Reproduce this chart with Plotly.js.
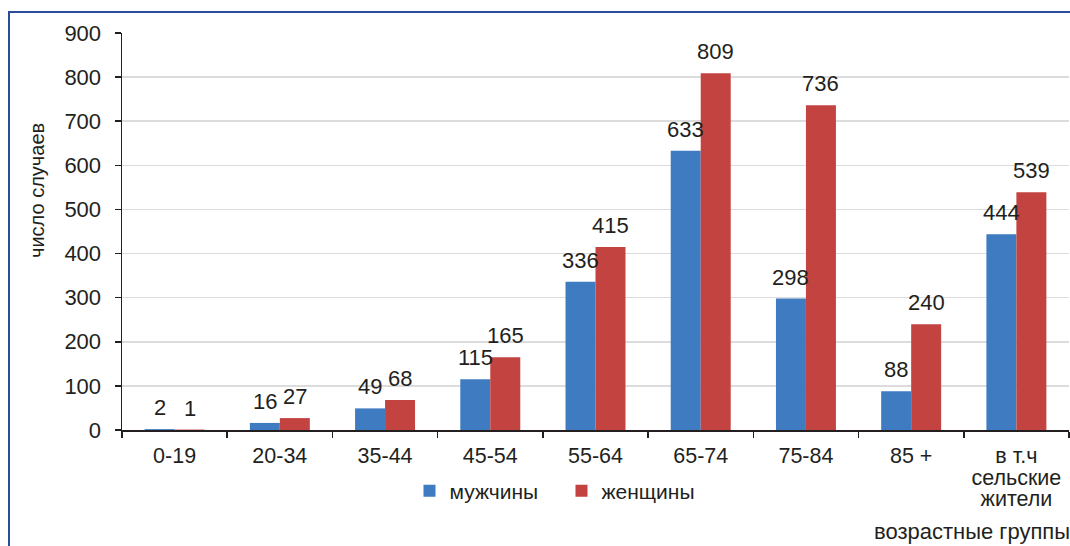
<!DOCTYPE html>
<html><head><meta charset="utf-8">
<script src="https://cdn.plot.ly/plotly-3.0.1.min.js"></script>
<style>html,body{margin:0;padding:0;background:#fff;overflow:hidden}#frame{position:absolute;left:8px;top:11px;width:1200px;height:700px;border-left:2px solid #2b4c9b;border-top:2px solid #2b4c9b;pointer-events:none}</style>
</head><body>
<div id="chart" style="width:1070px;height:546px;"></div>
<div id="frame"></div>
<script>
const categories = ["0-19","20-34","35-44","45-54","55-64","65-74","75-84","85 +","в т.ч<br>сельские<br>жители"];
const men = [2,16,49,115,336,633,298,88,444];
const women = [1,27,68,165,415,809,736,240,539];
const seriesNames = ["мужчины","женщины"];
const yTicks = [0,100,200,300,400,500,600,700,800,900];

const F = "Liberation Sans, Arial, sans-serif";
const txt = "#231f20";
const L=122, R=1069, T=33, B=430;
const W=R-L, H=B-T;
const BAR_OFF = 15; // half bar width in px

const traces = [
  {type:"bar", name:seriesNames[0], x:categories, y:men, marker:{color:"#3f7bc1"}, hoverinfo:"skip"},
  {type:"bar", name:seriesNames[1], x:categories, y:women, marker:{color:"#c34340"}, hoverinfo:"skip"}
];

const anns = [];
[[men,-BAR_OFF],[women,BAR_OFF]].forEach(([vals,dx])=>{
  vals.forEach((v,i)=>{
    anns.push({x:categories[i], y:v, xref:"x", yref:"y", text:String(v), showarrow:false,
      xanchor:"center", yanchor:"bottom", xshift:dx, yshift:7,
      font:{family:F,size:22,color:txt}});
  });
});
anns.push({text:"число случаев", xref:"paper", yref:"paper", x:(37-L)/W, y:(B-191)/H, xanchor:"center", yanchor:"middle", textangle:-90, showarrow:false, font:{family:F,size:20,color:txt}});
anns.push({text:"возрастные группы", xref:"paper", yref:"paper", x:(872-L)/W, y:(B-531)/H, xanchor:"left", yanchor:"middle", showarrow:false, font:{family:F,size:22,color:txt}});

const layout = {
  width:1070, height:546,
  margin:{l:L, r:1070-R, t:T, b:546-B, pad:0},
  paper_bgcolor:"#fff", plot_bgcolor:"#fff",
  font:{family:F, size:22, color:txt},
  barmode:"group", bargap:0.43, bargroupgap:0,
  showlegend:true,
  legend:{orientation:"h", x:(561.5-L)/W, xanchor:"center", y:(B-491)/H, yanchor:"middle",
    font:{family:F,size:21,color:txt}, itemwidth:30, entrywidth:107, entrywidthmode:"pixels"},
  xaxis:{type:"category", tickson:"boundaries", ticks:"outside", ticklen:6, tickcolor:"#231f20", tickwidth:1.5,
    tickvals:categories, ticktext:categories.map(c=>'<span style="font-size:21.5px">'+c+'</span>'),
    ticklabelstandoff:12,
    showline:true, linecolor:"#231f20", linewidth:1.5, showgrid:false, tickfont:{family:F,size:16.5,color:txt}, automargin:false, fixedrange:true},
  yaxis:{range:[0,900], tickvals:yTicks, ticks:"outside", ticklen:6, tickcolor:"#231f20", tickwidth:1.5,
    showline:true, linecolor:"#231f20", linewidth:1.5, showgrid:true, gridcolor:"#dcdcdc", gridwidth:1.5, zeroline:false,
    tickfont:{family:F,size:22,color:txt}, ticklabelstandoff:9, automargin:false},
  annotations:anns
};
Plotly.newPlot("chart", traces, layout, {displayModeBar:false, staticPlot:true});
</script>
</body></html>
